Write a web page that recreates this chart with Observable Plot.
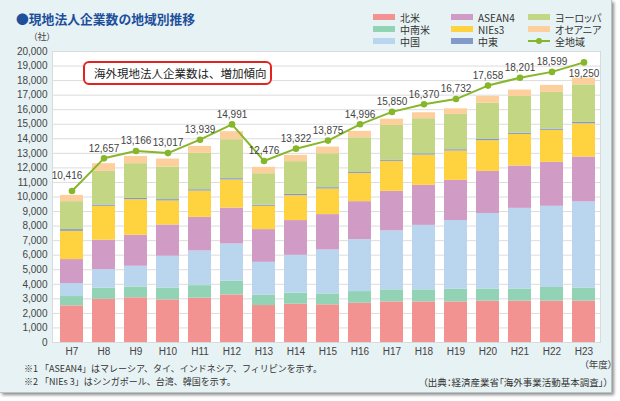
<!DOCTYPE html>
<html>
<head>
<meta charset="utf-8">
<script src="https://cdn.jsdelivr.net/npm/d3@7"></script>
<script src="https://cdn.jsdelivr.net/npm/@observablehq/plot@0.6"></script>
<style>
  html, body { margin: 0; padding: 0; background: #fff; }
  #wrap { position: relative; width: 620px; height: 401px; overflow: hidden; font-family: "Noto Sans CJK JP", sans-serif; }
  #panel { position: absolute; left: 0; top: 0; width: 611px; height: 392px; background: #e7f2f4; box-shadow: 2px 2px 3px rgba(0,0,0,0.45); border-right: 1px solid #b9c4c6; border-bottom: 1px solid #b9c4c6; }
  #title { position: absolute; left: 16px; top: 10px; font-size: 12.8px; font-weight: bold; color: #1d4f9b; line-height: 18px; white-space: nowrap; }
  #chart { position: absolute; left: 0; top: 0; }
  .leg { position: absolute; font-size: 10px; color: #333; line-height: 11px; height: 11px; white-space: nowrap; font-feature-settings: "palt"; }
  .sw { position: absolute; width: 22px; height: 6px; }
  #note { position: absolute; left: 83px; top: 61px; width: 185px; height: 20px; border: 2px solid #e3231f; border-radius: 6px; background: #fff; font-size: 11.5px; color: #222; line-height: 20px; text-indent: 9px; white-space: nowrap; }
  .foot { position: absolute; font-size: 9px; color: #333; white-space: nowrap; line-height: 12px; }
  .palt { font-feature-settings: "palt"; font-size: 9.5px; }
  #chart svg g[aria-label="y-axis"] path, #chart svg g[aria-label="x-axis"] path { stroke: #9a9a9a; }
</style>
</head>
<body>
<div id="wrap">
  <div id="panel"></div>
  <div id="title">●現地法人企業数の地域別推移</div>
  <div id="chart"></div>
  <div id="legend"></div>
  <div id="note">海外現地法人企業数は、増加傾向</div>
  <div class="foot palt" style="left:33px; top:31px; font-size:9px; color:#444;">（社）</div>
  <div class="foot palt" style="left:584px; top:358px; color:#444;">（年度）</div>
  <div class="foot" style="left:24px; top:363px;">※1 「ASEAN4」はマレーシア、タイ、インドネシア、フィリピンを示す。</div>
  <div class="foot" style="left:24px; top:376px;">※2 「NIEs 3」はシンガポール、台湾、韓国を示す。</div>
  <div class="foot palt" style="left:423px; top:376px;">（出典：経済産業省「海外事業活動基本調査」）</div>
</div>
<script>
const years = ["H7","H8","H9","H10","H11","H12","H13","H14","H15","H16","H17","H18","H19","H20","H21","H22","H23"];
const regions = ["北米","中南米","中国","ASEAN4","NIEs3","中東","ヨーロッパ","オセアニア"];
const regionColors = ["#f29391","#93d3b5","#bad6ef","#d09bc4","#ffd33f","#8399c9","#c2d684","#fdcf9d"];
const totalLabel = "全地域";
const totalColor = "#86b62a";

const northAmerica = [2520, 2970, 3070, 2930, 3040, 3270, 2540, 2630, 2590, 2700, 2790, 2790, 2790, 2840, 2840, 2840, 2840];
const latinAmerica = [640, 760, 750, 820, 870, 940, 710, 760, 750, 800, 830, 830, 870, 840, 840, 940, 910];
const china        = [890, 1280, 1420, 2180, 2380, 2560, 2260, 2600, 3020, 3570, 4050, 4430, 4720, 5180, 5540, 5580, 5910];
const asean4       = [1650, 2020, 2130, 2150, 2310, 2470, 2250, 2390, 2430, 2610, 2720, 2750, 2760, 2900, 2910, 3020, 3090];
const nies3        = [1940, 2330, 2450, 1650, 1810, 1930, 1600, 1710, 1760, 1940, 2060, 2080, 2020, 2110, 2170, 2200, 2280];
const middleEast   = [120, 90, 90, 90, 90, 90, 70, 90, 90, 100, 90, 90, 90, 90, 90, 90, 100];
const europe       = [1920, 2310, 2380, 2240, 2500, 2680, 2170, 2250, 2330, 2350, 2380, 2410, 2430, 2490, 2520, 2520, 2580];
const oceania      = [430, 530, 500, 550, 480, 550, 440, 430, 460, 440, 430, 410, 380, 460, 440, 480, 460];
const totals       = [10416, 12657, 13166, 13017, 13939, 14991, 12476, 13322, 13875, 14996, 15850, 16370, 16732, 17658, 18201, 18599, 19250];
const yTicks = d3.range(0, 20001, 1000);

const seriesValues = [northAmerica, latinAmerica, china, asean4, nies3, middleEast, europe, oceania];
const stacked = [];
years.forEach((yr, i) => {
  regions.forEach((r, j) => stacked.push({year: yr, region: r, value: seriesValues[j][i]}));
});
const totalData = years.map((yr, i) => ({year: yr, total: totals[i], idx: i}));
const fmt = d3.format(",");
const last = years.length - 1;

const chart = Plot.plot({
  width: 620,
  height: 401,
  marginLeft: 52,
  marginRight: 20,
  marginTop: 51,
  marginBottom: 59,
  style: {background: "transparent", fontFamily: "Liberation Sans, Arial, sans-serif", fontSize: "10px", color: "#444"},
  x: {domain: years, range: [58.35, 596.15], paddingInner: 0.275, paddingOuter: 0, tickSize: 0, tickPadding: 5, label: null, line: true},
  y: {domain: [0, 20000], ticks: yTicks, tickFormat: d => fmt(d), tickSize: 0, tickPadding: 5, label: null, line: true},
  color: {domain: regions, range: regionColors},
  marks: [
    Plot.frame({fill: "#fff", stroke: "#d6dcdd"}),
    Plot.ruleY(yTicks.slice(1), {stroke: "#dcdcdc", strokeWidth: 1}),
    Plot.barY(stacked, {x: "year", y: "value", fill: "region"}),
    Plot.line(totalData, {x: "year", y: "total", stroke: totalColor, strokeWidth: 2}),
    Plot.dot(totalData, {x: "year", y: "total", fill: totalColor, r: 3.3}),
    Plot.text(totalData, {filter: d => d.idx === 0, x: "year", y: "total", text: d => fmt(d.total), dx: -5, dy: -15, fill: "#444", fontSize: 10}),
    Plot.text(totalData, {filter: d => d.idx > 0 && d.idx < last, x: "year", y: "total", text: d => fmt(d.total), dy: -10, fill: "#444", fontSize: 10}),
    Plot.text(totalData, {filter: d => d.idx === last, x: "year", y: "total", text: d => fmt(d.total), dy: 11, fill: "#444", fontSize: 10})
  ]
});
document.getElementById("chart").appendChild(chart);

// legend (column-major, 3 rows)
const legend = document.getElementById("legend");
const colX = [373, 451, 528];
const rowY = [17, 29, 41];
const items = regions.map((r, i) => ({label: r, color: regionColors[i], line: false}));
items.push({label: totalLabel, color: totalColor, line: true});
items.forEach((it, k) => {
  const c = Math.floor(k / 3), r = k % 3;
  if (it.line) {
    const s = document.createElement("div");
    s.style.cssText = `position:absolute;left:${colX[c]}px;top:${rowY[r]-1}px;width:22px;height:2px;background:${it.color};`;
    legend.appendChild(s);
    const d = document.createElement("div");
    d.style.cssText = `position:absolute;left:${colX[c]+8}px;top:${rowY[r]-3}px;width:6px;height:6px;border-radius:50%;background:${it.color};`;
    legend.appendChild(d);
  } else {
    const s = document.createElement("div");
    s.className = "sw";
    s.style.left = colX[c] + "px";
    s.style.top = (rowY[r] - 3) + "px";
    s.style.background = it.color;
    legend.appendChild(s);
  }
  const t = document.createElement("div");
  t.className = "leg";
  t.style.left = (colX[c] + 27) + "px";
  t.style.top = (rowY[r] - 5.5) + "px";
  t.textContent = it.label;
  legend.appendChild(t);
});
</script>
</body>
</html>
